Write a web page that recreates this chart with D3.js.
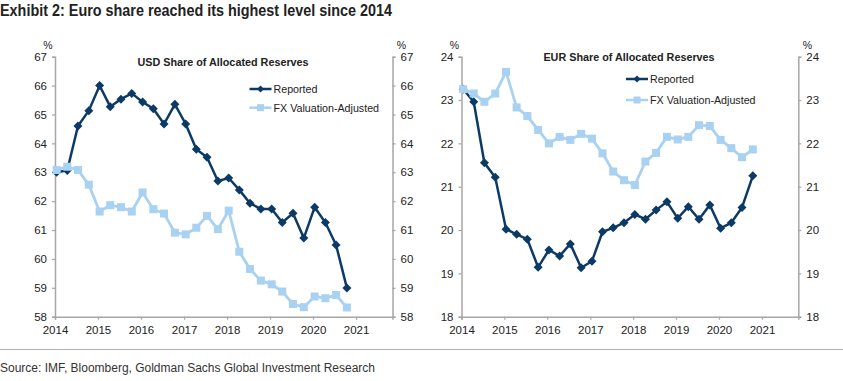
<!DOCTYPE html>
<html>
<head>
<meta charset="utf-8">
<script src="https://cdn.jsdelivr.net/npm/d3@7"></script>
<style>
  body { margin: 0; background: #fff; }
  svg { display: block; }
  text { font-family: "Liberation Sans", Arial, sans-serif; fill: #222; }
</style>
</head>
<body>
<svg id="canvas" width="843" height="381"></svg>
<script>
// quarterly observations, 2014Q1 .. 2020Q4
var quarters = ['2014Q1', '2014Q2', '2014Q3', '2014Q4', '2015Q1', '2015Q2', '2015Q3', '2015Q4',
    '2016Q1', '2016Q2', '2016Q3', '2016Q4', '2017Q1', '2017Q2', '2017Q3', '2017Q4',
    '2018Q1', '2018Q2', '2018Q3', '2018Q4', '2019Q1', '2019Q2', '2019Q3', '2019Q4',
    '2020Q1', '2020Q2', '2020Q3', '2020Q4'];

var usdReported = [63.00, 63.06, 64.60, 65.13, 66.00, 65.27, 65.53, 65.73, 65.43, 65.20, 64.67, 65.35,
    64.67, 63.80, 63.52, 62.70, 62.80, 62.39, 61.93, 61.73, 61.73, 61.26, 61.58, 60.72,
    61.79, 61.26, 60.48, 58.99];
var usdAdjusted = [63.08, 63.19, 63.08, 62.57, 61.64, 61.86, 61.79, 61.64, 62.30, 61.72, 61.57, 60.91,
    60.85, 61.08, 61.49, 61.03, 61.67, 60.25, 59.65, 59.25, 59.12, 58.87, 58.44, 58.33,
    58.70, 58.64, 58.75, 58.32];

var eurReported = [23.25, 22.96, 21.55, 21.22, 20.02, 19.90, 19.79, 19.14, 19.54, 19.40, 19.68, 19.13,
    19.28, 19.96, 20.05, 20.17, 20.36, 20.25, 20.46, 20.65, 20.27, 20.54, 20.25, 20.58,
    20.04, 20.17, 20.52, 21.25];
var eurAdjusted = [23.25, 23.15, 22.96, 23.15, 23.65, 22.83, 22.63, 22.31, 22.00, 22.15, 22.08, 22.22,
    22.11, 21.77, 21.35, 21.15, 21.04, 21.58, 21.78, 22.15, 22.09, 22.15, 22.42, 22.40,
    22.08, 21.89, 21.68, 21.86];

var yearTicks = [2014, 2015, 2016, 2017, 2018, 2019, 2020, 2021];
var usdTicks = [58, 59, 60, 61, 62, 63, 64, 65, 66, 67];
var eurTicks = [18, 19, 20, 21, 22, 23, 24];
var seriesNames = ['Reported', 'FX Valuation-Adjusted'];

var darkBlue = '#0b3a66';
var lightBlue = '#a9d1f1';
var axisGrey = '#a6a6a6';

var svg = d3.select('#canvas');

var dates = quarters.map(function(q) {
    return new Date(+q.slice(0, 4), (+q.slice(5) - 1) * 3, 15);
});

// condensed look: squeeze Liberation Sans to the reference width
svg.append('text')
    .attr('x', 0)
    .attr('y', 16)
    .attr('font-size', 17)
    .attr('font-weight', 'bold')
    .attr('textLength', 392)
    .attr('lengthAdjust', 'spacingAndGlyphs')
    .text('Exhibit 2: Euro share reached its highest level since 2014');

svg.append('line')
    .attr('x1', 0).attr('x2', 843)
    .attr('y1', 349.5).attr('y2', 349.5)
    .attr('stroke', '#b0b0b0')
    .attr('stroke-width', 1.2);

svg.append('text')
    .attr('x', 0)
    .attr('y', 372)
    .attr('font-size', 12.5)
    .attr('textLength', 375)
    .attr('lengthAdjust', 'spacingAndGlyphs')
    .style('fill', '#333')
    .text('Source: IMF, Bloomberg, Goldman Sachs Global Investment Research');

function panel(opt) {
    var x = d3.scaleTime()
        .domain([new Date(2014, 0, 1), new Date(2021, 10, 6)])
        .range([opt.left, opt.right]);
    var y = d3.scaleLinear()
        .domain(opt.domain)
        .range([316.7, 56.7]);

    var g = svg.append('g');
    var fmt = d3.format('d');

    var yLeft = d3.axisLeft(y).tickValues(opt.ticks).tickFormat(fmt).tickSize(3).tickPadding(5);
    var yRight = d3.axisRight(y).tickValues(opt.ticks).tickFormat(fmt).tickSize(3).tickPadding(5);
    var xAxis = d3.axisBottom(x)
        .tickValues(yearTicks.map(function(yr) { return new Date(yr, 0, 1); }))
        .tickFormat(d3.timeFormat('%Y'))
        .tickSize(3).tickPadding(6);

    [[yLeft, 'translate(' + opt.left + ',0)'],
     [yRight, 'translate(' + opt.right + ',0)'],
     [xAxis, 'translate(0,316.7)']].forEach(function(a) {
        var ax = g.append('g').attr('transform', a[1]).call(a[0]);
        ax.select('.domain').attr('stroke', axisGrey).attr('stroke-width', 1.5);
        ax.selectAll('.tick line').attr('stroke', axisGrey).attr('stroke-width', 1.2);
        ax.selectAll('.tick text')
            .attr('font-family', '"Liberation Sans", Arial, sans-serif')
            .attr('font-size', 11.5)
            .attr('fill', '#222');
    });

    g.append('text').attr('x', opt.left - 7).attr('y', 49)
        .attr('text-anchor', 'middle').attr('font-size', 10.5).text('%');
    g.append('text').attr('x', opt.right + 9).attr('y', 49)
        .attr('text-anchor', 'middle').attr('font-size', 10.5).text('%');

    g.append('text')
        .attr('x', opt.titleX).attr('y', opt.titleY)
        .attr('text-anchor', 'middle')
        .attr('font-size', 10.8)
        .attr('font-weight', 'bold')
        .text(opt.title);

    var line = d3.line()
        .x(function(d, i) { return x(dates[i]); })
        .y(function(d) { return y(d); });

    var diamond = 'M0,-4.5L4.5,0L0,4.5L-4.5,0Z';

    // reported
    g.append('path').datum(opt.reported)
        .attr('d', line).attr('fill', 'none')
        .attr('stroke', darkBlue).attr('stroke-width', 2.5);
    g.selectAll('.rep').data(opt.reported).enter().append('path')
        .attr('class', 'rep')
        .attr('d', diamond)
        .attr('transform', function(d, i) { return 'translate(' + x(dates[i]) + ',' + y(d) + ')'; })
        .attr('fill', darkBlue);

    // fx adjusted
    g.append('path').datum(opt.adjusted)
        .attr('d', line).attr('fill', 'none')
        .attr('stroke', lightBlue).attr('stroke-width', 2.8);
    g.selectAll('.adj').data(opt.adjusted).enter().append('rect')
        .attr('class', 'adj')
        .attr('x', function(d, i) { return x(dates[i]) - 4; })
        .attr('y', function(d) { return y(d) - 4; })
        .attr('width', 8).attr('height', 8)
        .attr('fill', lightBlue);

    // legend
    var lg = g.append('g').attr('transform', 'translate(' + opt.legendX + ',' + opt.legendY + ')');
    [darkBlue, lightBlue].forEach(function(c, i) {
        var yy = i * opt.legendGap;
        lg.append('line').attr('x1', 0).attr('x2', 22).attr('y1', yy).attr('y2', yy)
            .attr('stroke', c).attr('stroke-width', 2.5);
        if (i === 0) {
            lg.append('path').attr('d', 'M0,-3.5L3.5,0L0,3.5L-3.5,0Z')
                .attr('transform', 'translate(11,' + yy + ')').attr('fill', c);
        } else {
            lg.append('rect').attr('x', 7.5).attr('y', yy - 3.5).attr('width', 7).attr('height', 7)
                .attr('fill', c);
        }
        lg.append('text').attr('x', 24).attr('y', yy + 4)
            .attr('font-size', 10.7).text(seriesNames[i]);
    });
}

panel({
    left: 55, right: 392.5, domain: [58, 67], ticks: usdTicks,
    title: 'USD Share of Allocated Reserves', titleX: 223, titleY: 66,
    reported: usdReported, adjusted: usdAdjusted,
    legendX: 249.5, legendY: 89, legendGap: 18.7
});

panel({
    left: 461.5, right: 798.3, domain: [18, 24], ticks: eurTicks,
    title: 'EUR Share of Allocated Reserves', titleX: 629, titleY: 61,
    reported: eurReported, adjusted: eurAdjusted,
    legendX: 626, legendY: 79, legendGap: 21
});
</script>
</body>
</html>
